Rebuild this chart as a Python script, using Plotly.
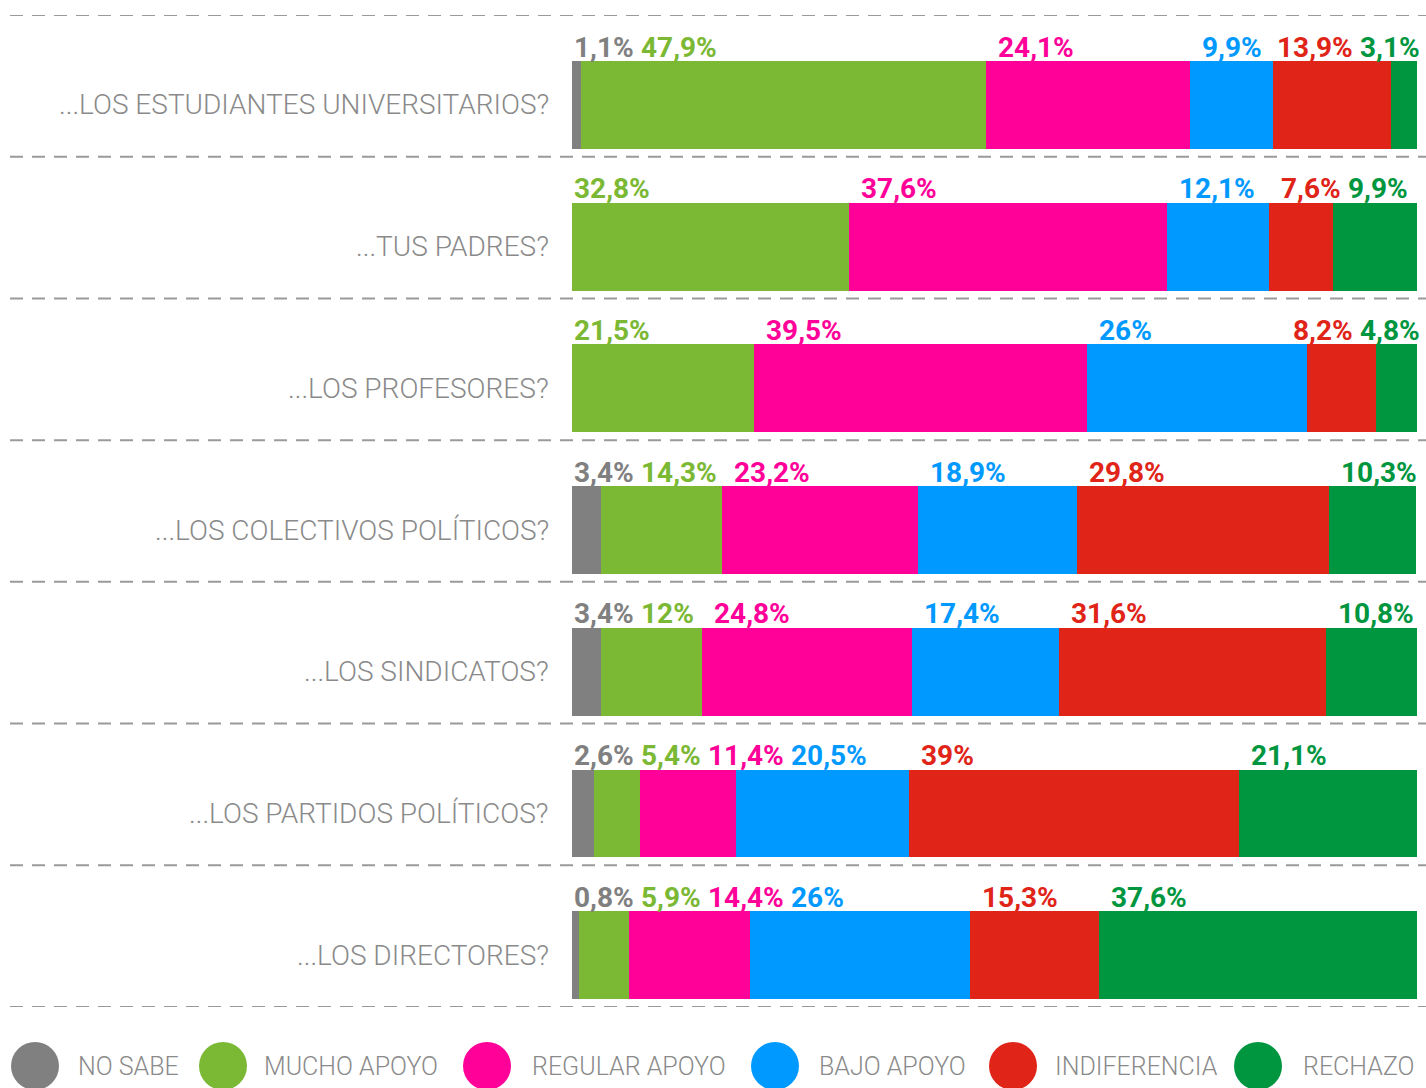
import plotly.graph_objects as go

categories = [
    "...LOS ESTUDIANTES UNIVERSITARIOS?",
    "...TUS PADRES?",
    "...LOS PROFESORES?",
    "...LOS COLECTIVOS POLÍTICOS?",
    "...LOS SINDICATOS?",
    "...LOS PARTIDOS POLÍTICOS?",
    "...LOS DIRECTORES?",
]
series_names = ["NO SABE", "MUCHO APOYO", "REGULAR APOYO", "BAJO APOYO", "INDIFERENCIA", "RECHAZO"]
no_sabe = [1.1, 0, 0, 3.4, 3.4, 2.6, 0.8]
mucho_apoyo = [47.9, 32.8, 21.5, 14.3, 12, 5.4, 5.9]
regular_apoyo = [24.1, 37.6, 39.5, 23.2, 24.8, 11.4, 14.4]
bajo_apoyo = [9.9, 12.1, 26, 18.9, 17.4, 20.5, 26]
indiferencia = [13.9, 7.6, 8.2, 29.8, 31.6, 39, 15.3]
rechazo = [3.1, 9.9, 4.8, 10.3, 10.8, 21.1, 37.6]
series_values = [no_sabe, mucho_apoyo, regular_apoyo, bajo_apoyo, indiferencia, rechazo]
colors = ["#808080", "#7BB834", "#FF0099", "#0099FF", "#E02418", "#009640"]

# layout constants (pixels)
W, H = 1426, 1088
ML, MR, MT, MB = 572, 9, 15, 81
PLOT_W = W - ML - MR
PLOT_H = H - MT - MB
PX = PLOT_W / 100.0
BAR_CENTER = 0.635
BAR_W = 0.62
LABEL_Y = 0.226
VAL_SIZE = 28

fig = go.Figure()
n = len(categories)
ypos = [i + BAR_CENTER for i in range(n)]
for name, vals, col in zip(series_names, series_values, colors):
    fig.add_trace(go.Bar(
        x=vals, y=ypos, orientation="h", width=BAR_W, name=name,
        marker=dict(color=col, line=dict(width=0)), showlegend=False,
        hoverinfo="x+name",
    ))


def fmt(v):
    return f"{v:g}".replace(".", ",") + "%"


def text_w(s):
    k = VAL_SIZE / 27.0
    w = 0
    for c in s:
        if c.isdigit():
            w += 15.2 * k
        elif c == ",":
            w += 6.2 * k
        else:
            w += 20.5 * k
    return w / PX


annotations = []
GAP = 8 / PX
PAD = 10 / PX
for i in range(n):
    items = []
    start = 0.0
    for vals, col in zip(series_values, colors):
        v = vals[i]
        if v > 0:
            items.append((start, fmt(v), col))
        start += v
    xs = []
    prev_end = None
    for j, (s, lab, col) in enumerate(items):
        x = s + (0 if j == 0 else PAD)
        if prev_end is not None:
            x = max(x, prev_end + GAP)
        xs.append(x)
        prev_end = x + text_w(lab)
    limit = 100.0
    for j in range(len(items) - 1, -1, -1):
        w = text_w(items[j][1])
        if xs[j] + w > limit:
            xs[j] = limit - w
        limit = xs[j] - GAP
    for x, (s, lab, col) in zip(xs, items):
        annotations.append(dict(
            x=x, y=i + LABEL_Y, xref="x", yref="y", text=lab, showarrow=False,
            xanchor="left", yanchor="middle",
            font=dict(family="Roboto", size=VAL_SIZE, color=col, weight=700),
        ))
    annotations.append(dict(
        x=-21 / PLOT_W, y=i + BAR_CENTER, xref="paper", yref="y", text=categories[i],
        showarrow=False, xanchor="right", yanchor="middle",
        font=dict(family="Roboto", size=28, color="#8a8a8a", weight=300),
    ))

shapes = []
for k in range(n + 1):
    shapes.append(dict(
        type="line", xref="paper", yref="y",
        x0=(10 - ML) / PLOT_W, x1=(W - ML) / PLOT_W, y0=k, y1=k,
        line=dict(color="#9a9a9a", width=2, dash="13px,9px"), layer="below",
    ))

# custom legend
legend_circle_px = [35, 223, 487, 775, 1013, 1258]
legend_text_px = [76, 262, 530, 817, 1053, 1301]
legend_y = -(1066 - (H - MB)) / PLOT_H
for name, col, cx, tx in zip(series_names, colors, legend_circle_px, legend_text_px):
    shapes.append(dict(
        type="circle", xref="paper", yref="paper",
        xsizemode="pixel", ysizemode="pixel",
        xanchor=(cx - ML) / PLOT_W, yanchor=legend_y,
        x0=-24, x1=24, y0=-24, y1=24,
        fillcolor=col, line=dict(width=0),
    ))
    annotations.append(dict(
        x=(tx - ML) / PLOT_W, y=legend_y, xref="paper", yref="paper", text=name,
        showarrow=False, xanchor="left", yanchor="middle",
        font=dict(family="Roboto", size=25, color="#8a8a8a", weight=300),
    ))

fig.update_layout(
    width=W, height=H,
    margin=dict(l=ML, r=MR, t=MT, b=MB, pad=0),
    barmode="stack", bargap=0,
    plot_bgcolor="white", paper_bgcolor="white",
    xaxis=dict(range=[0, 100], visible=False, fixedrange=True),
    yaxis=dict(range=[n, 0], visible=False, fixedrange=True),
    annotations=annotations, shapes=shapes,
    showlegend=False,
)

fig.write_html(
    "out.html",
    config={"displayModeBar": False},
    post_script="document.body.style.margin='0';document.body.style.overflow='hidden';",
)
